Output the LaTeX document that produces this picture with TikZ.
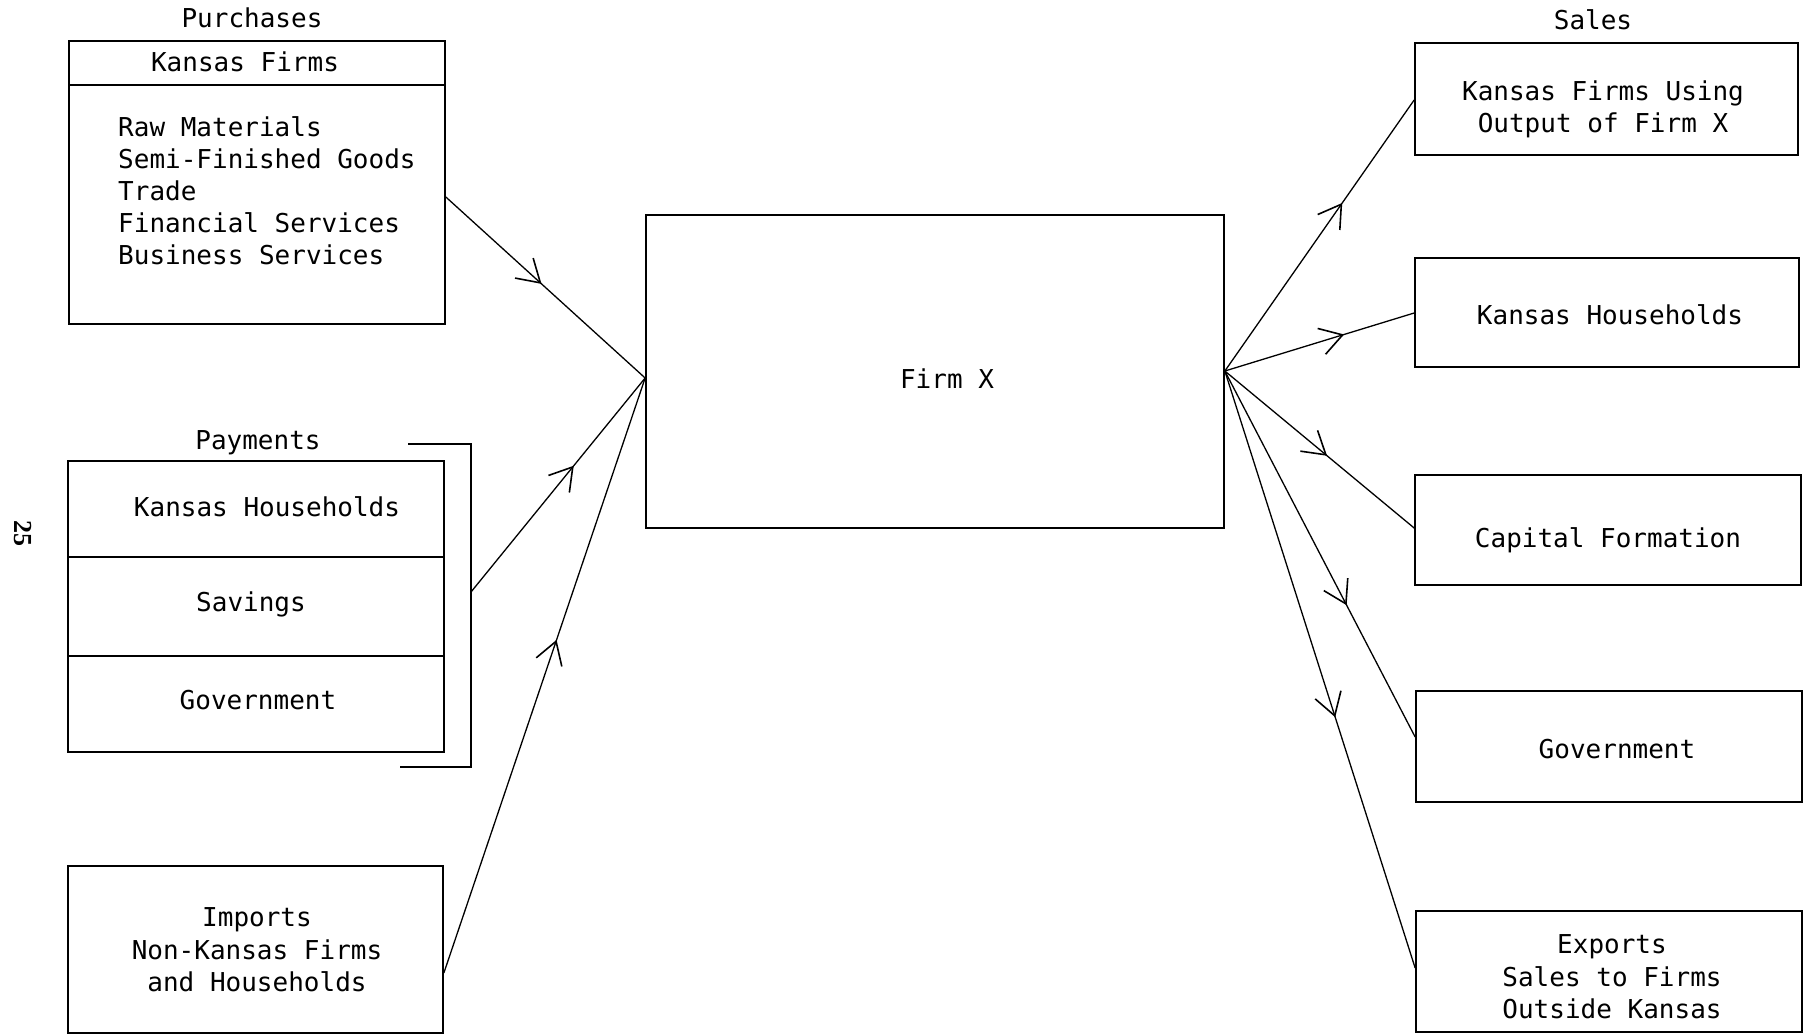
\documentclass[tikz,border=0pt]{standalone}
\usepackage{fontspec}
\setmainfont{DejaVu Sans Mono}
\newfontfamily\folio{Liberation Serif}
\usetikzlibrary{arrows.meta,decorations.markings}

\tikzset{
  txt/.style={font=\fontsize{26}{31}\selectfont, inner sep=0pt, align=center},
  box/.style={draw, line width=1.7pt, inner sep=0pt},
  rule/.style={line width=1.7pt},
  flow/.style={line width=1.3pt, postaction={decorate},
    decoration={markings, mark=at position #1 with {\arrow{Straight Barb[length=22pt, width=27pt, line width=1.6pt]}}}}
}

\begin{document}
\begin{tikzpicture}[x=1pt,y=-1pt]
\useasboundingbox (0,0) rectangle (1805,1036);

% page number
\node[font=\folio\bfseries\fontsize{26}{26}\selectfont, rotate=-90, inner sep=0pt] (folio) at (23,533) {25};

% ---- inputs (left) ----
\node[txt] (purch) at (252,18) {Purchases};
\node[box, minimum width=376, minimum height=283] (kf) at (257,182.5) {};
\draw[rule] (kf.west |- 0,85) -- (kf.east |- 0,85);
\node[txt] (kfhead) at (245,62) {Kansas Firms};
\node[txt, anchor=west, align=left, font=\fontsize{26}{32}\selectfont] (kfitems) at (118,191)
  {Raw Materials\\Semi-Finished Goods\\Trade\\Financial Services\\Business Services};

\node[txt] (paytitle) at (258,443) {Payments};
\node[box, minimum width=376, minimum height=291] (pay) at (256,606.5) {};
\draw[rule] (pay.west |- 0,557) -- (pay.east |- 0,557);
\draw[rule] (pay.west |- 0,656) -- (pay.east |- 0,656);
\node[txt] (payhh) at (267,507) {Kansas Households};
\node[txt] (paysav) at (251,604) {Savings};
\node[txt] (paygov) at (258,700) {Government};

% bracket gathering the payment sectors
\coordinate (brtop) at (408,444);
\coordinate (brbot) at (400,767);
\coordinate (payport) at (471,592);
\draw[line width=1.3pt] (brtop) -- (payport |- brtop) -- (payport |- brbot) -- (brbot);

\node[box, minimum width=375, minimum height=167] (imp) at (255.5,949.5) {};
\node[txt, font=\fontsize{26}{32.5}\selectfont] (imptext) at (257,950)
  {Imports\\Non-Kansas Firms\\and Households};

% ---- the firm ----
\node[box, minimum width=578, minimum height=313] (firm) at (935,371.5) {};
\node[txt] (firmtext) at (947,379) {Firm X};

% ---- outputs (right) ----
\node[txt] (salestitle) at (1593,20) {Sales};
\node[box, minimum width=383, minimum height=112] (s1) at (1606.5,99) {};
\node[txt, font=\fontsize{26}{32}\selectfont] (s1text) at (1603,109) {Kansas Firms Using\\Output of Firm X};
\node[box, minimum width=384, minimum height=109] (s2) at (1607,312.5) {};
\node[txt] (s2text) at (1610,315) {Kansas Households};
\node[box, minimum width=386, minimum height=110] (s3) at (1608,530) {};
\node[txt] (s3text) at (1608,540) {Capital Formation};
\node[box, minimum width=386, minimum height=111] (s4) at (1609,746.5) {};
\node[txt] (s4text) at (1617,749) {Government};
\node[box, minimum width=386, minimum height=121] (s5) at (1609,971.5) {};
\node[txt, font=\fontsize{26}{32.5}\selectfont] (s5text) at (1612,977)
  {Exports\\Sales to Firms\\Outside Kansas};

% ---- connector end points ----
\coordinate (kfport) at (kf.east |- 0,197);
\coordinate (impport) at (imp.east |- 0,973);
\coordinate (inL) at (firm.west |- 0,378);
\coordinate (outR) at (firm.east |- 0,371);
\coordinate (t1) at (s1.west |- 0,100);
\coordinate (t2) at (s2.west |- 0,313);
\coordinate (t3) at (s3.west |- 0,528);
\coordinate (t4) at (s4.west |- 0,737);
\coordinate (t5) at (s5.west |- 0,968);

% ---- flows ----
\draw[flow=0.48] (kfport) -- (inL);
\draw[flow=0.59] (payport) -- (inL);
\draw[flow=0.56] (impport) -- (inL);
\draw[flow=0.62] (outR) -- (t1);
\draw[flow=0.63] (outR) -- (t2);
\draw[flow=0.54] (outR) -- (t3);
\draw[flow=0.64] (outR) -- (t4);
\draw[flow=0.58] (outR) -- (t5);
\end{tikzpicture}
\end{document}
